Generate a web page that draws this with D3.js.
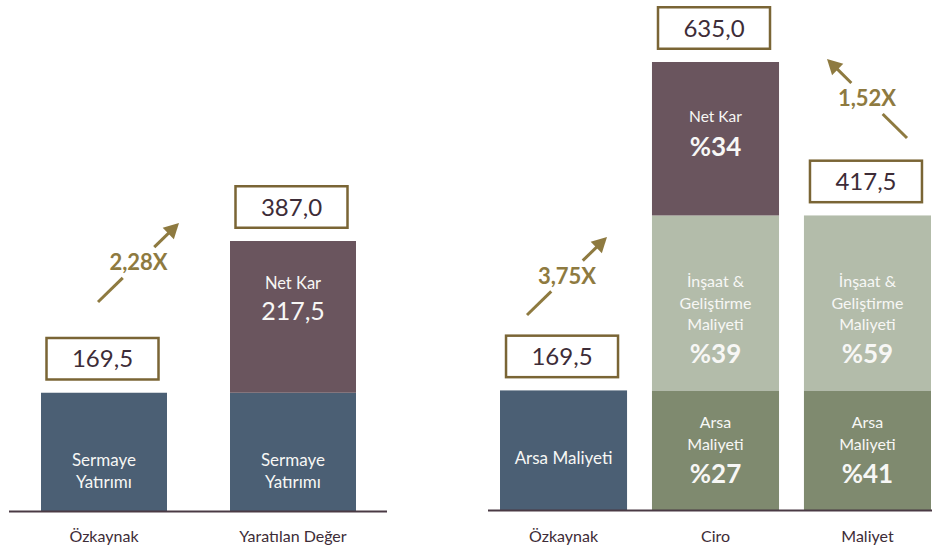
<!DOCTYPE html>
<html>
<head>
<meta charset="utf-8">
<script src="https://cdn.jsdelivr.net/npm/d3@7"></script>
<style>
  html, body { margin: 0; padding: 0; background: #fff; }
  svg { display: block; font-family: Lato, "Noto Sans", sans-serif; }
</style>
</head>
<body>
<svg id="chart" width="932" height="546"></svg>
<script>
// --- Data ---
const leftCategories = ["Özkaynak", "Yaratılan Değer"];
const leftSermaye = [169.5, 169.5];
const leftNetKar = [0, 217.5];
const leftTotals = ["169,5", "387,0"];

const rightCategories = ["Özkaynak", "Ciro", "Maliyet"];
const rightOzkaynak = [169.5, 0, 0];
const rightArsa = [0, 169.5, 169.5];
const rightInsaat = [0, 248.0, 248.0];
const rightNetKar = [0, 217.5, 0];
const rightTotals = ["169,5", "635,0", "417,5"];
const arsaPct = ["", "%27", "%41"];
const insaatPct = ["", "%39", "%59"];
const netKarPct = ["", "%34", ""];

const multipliers = ["2,28X", "3,75X", "1,52X"];

// --- Colours ---
const colors = {
  sermaye: "#4b5f74",
  netKar: "#6a555e",
  insaat: "#b3bcaa",
  arsa: "#7f8a6f",
  gold: "#8e7a40",
  box: "#7a6535",
  text: "#3d2c37",
  axis: "#4a3a44"
};

const svg = d3.select("#chart");

// --- Scales ---
const xLeft = d3.scaleBand().domain(leftCategories).range([41, 356]).paddingInner(1 / 3).paddingOuter(0);
const yLeft = d3.scaleLinear().domain([0, 387]).range([511, 241]);

const xRight = d3.scaleBand().domain(rightCategories).range([500, 931]).paddingInner(0.164).paddingOuter(0);
const yRight = d3.scaleLinear().domain([0, 635]).range([510, 62]);

// --- Build stacked rows ---
const leftRows = leftCategories.map((c, i) => ({ cat: c, sermaye: leftSermaye[i], netKar: leftNetKar[i], idx: i }));
const rightRows = rightCategories.map((c, i) => ({
  cat: c, ozkaynak: rightOzkaynak[i], arsa: rightArsa[i], insaat: rightInsaat[i], netKar: rightNetKar[i], idx: i
}));

const leftStack = d3.stack().keys(["sermaye", "netKar"])(leftRows);
const rightStack = d3.stack().keys(["ozkaynak", "arsa", "insaat", "netKar"])(rightRows);

const keyColor = { sermaye: colors.sermaye, ozkaynak: colors.sermaye, netKar: colors.netKar, insaat: colors.insaat, arsa: colors.arsa };

// label lines per segment: [text, dy from segment centre, size, weight]
function leftLabels(key, i) {
  if (key === "sermaye") return [["Sermaye", 8, 17, 400], ["Yatırımı", 30, 17, 400]];
  if (key === "netKar") return [["Net Kar", -34, 16.5, 400], [d3.format(".1f")(leftNetKar[i]).replace(".", ","), -6, 25, 400]];
  return [];
}
function rightLabels(key, i) {
  if (key === "ozkaynak") return [["Arsa Maliyeti", 7.5, 17, 400]];
  if (key === "arsa") return [["Arsa", -27.5, 16, 400], ["Maliyeti", -5.5, 16, 400], [arsaPct[i], 23.5, 26, 700]];
  if (key === "insaat") return [["İnşaat &", -22, 16, 400], ["Geliştirme", 0, 16, 400], ["Maliyeti", 21, 16, 400], [insaatPct[i], 51, 26, 700]];
  if (key === "netKar") return [["Net Kar", -22, 15.5, 400], [netKarPct[i], 8, 26, 700]];
  return [];
}

function drawChart(g, stack, x, y, labelFn, totals, axisRange, catY) {
  stack.forEach(layer => {
    layer.forEach(d => {
      if (d[1] - d[0] <= 0) return;
      const cat = d.data.cat;
      const i = d.data.idx;
      g.append("rect")
        .attr("x", x(cat))
        .attr("y", y(d[1]))
        .attr("width", x.bandwidth())
        .attr("height", y(d[0]) - y(d[1]))
        .attr("fill", keyColor[layer.key]);
      const cy = (y(d[0]) + y(d[1])) / 2;
      const cx = x(cat) + x.bandwidth() / 2;
      labelFn(layer.key, i).forEach(([t, dy, size, weight]) => {
        g.append("text")
          .attr("x", cx)
          .attr("y", cy + dy)
          .attr("dy", "0.36em")
          .attr("text-anchor", "middle")
          .attr("fill", "#f7f7f5")
          .attr("font-size", size)
          .attr("font-weight", weight)
          .text(t);
      });
    });
  });

  // total boxes
  const top = stack[stack.length - 1];
  top.forEach((d, i) => {
    const cx = x(d.data.cat) + x.bandwidth() / 2 - 1.5;
    const by = y(d[1]) - 12 - 44;
    g.append("rect")
      .attr("x", cx - 56)
      .attr("y", by + 1.25)
      .attr("width", 112)
      .attr("height", 41.5)
      .attr("fill", "#fff")
      .attr("stroke", colors.box)
      .attr("stroke-width", 2.5);
    g.append("text")
      .attr("x", cx)
      .attr("y", by + 22)
      .attr("dy", "0.36em")
      .attr("text-anchor", "middle")
      .attr("fill", colors.text)
      .attr("font-size", 24)
      .text(totals[i]);
  });

  // baseline
  g.append("line")
    .attr("x1", axisRange[0]).attr("x2", axisRange[1])
    .attr("y1", y(0) + 0.5).attr("y2", y(0) + 0.5)
    .attr("stroke", colors.axis)
    .attr("stroke-width", 2);

  // category labels
  const axis = d3.axisBottom(x).tickSize(0).tickPadding(0);
  const ax = g.append("g").attr("transform", `translate(0,${catY})`).call(axis);
  ax.select(".domain").remove();
  ax.selectAll("text")
    .attr("font-family", "Lato, 'Noto Sans', sans-serif")
    .attr("font-size", 16)
    .attr("fill", colors.text)
    .attr("dy", "0.36em")
    .attr("y", 0);
}

drawChart(svg.append("g"), leftStack, xLeft, yLeft, leftLabels, leftTotals, [9, 387], 536);
drawChart(svg.append("g"), rightStack, xRight, yRight, rightLabels, rightTotals, [488, 932], 536);

// --- Multiplier arrows ---
const arrows = [
  { from: [98, 302], to: [179, 223], label: multipliers[0] },
  { from: [527, 315], to: [607, 237], label: multipliers[1] },
  { from: [907, 138], to: [827, 59], label: multipliers[2] }
];
const ag = svg.append("g");
arrows.forEach(a => {
  const [x0, y0] = a.from, [x1, y1] = a.to;
  const len = Math.hypot(x1 - x0, y1 - y0);
  const ux = (x1 - x0) / len, uy = (y1 - y0) / len;
  const mx = (x0 + x1) / 2, my = (y0 + y1) / 2;
  const gap = 22, head = 15, hw = 8;
  ag.append("line")
    .attr("x1", x0).attr("y1", y0)
    .attr("x2", mx - ux * gap).attr("y2", my - uy * gap)
    .attr("stroke", colors.gold).attr("stroke-width", 3);
  ag.append("line")
    .attr("x1", mx + ux * gap).attr("y1", my + uy * gap)
    .attr("x2", x1 - ux * head * 0.8).attr("y2", y1 - uy * head * 0.8)
    .attr("stroke", colors.gold).attr("stroke-width", 3);
  const bx = x1 - ux * head, by = y1 - uy * head;
  ag.append("path")
    .attr("d", `M${x1},${y1}L${bx - uy * hw},${by + ux * hw}L${bx + uy * hw},${by - ux * hw}Z`)
    .attr("fill", colors.gold);
  ag.append("text")
    .attr("x", mx).attr("y", my)
    .attr("dy", "0.36em")
    .attr("text-anchor", "middle")
    .attr("fill", colors.gold)
    .attr("font-size", 22)
    .attr("font-weight", 700)
    .text(a.label);
});
</script>
</body>
</html>
